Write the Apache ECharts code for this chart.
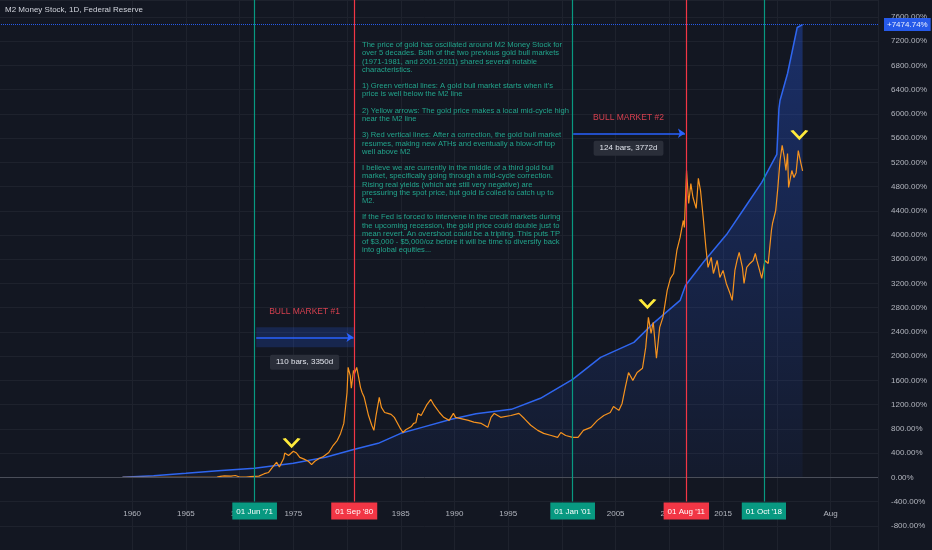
<!DOCTYPE html>
<html>
<head>
<meta charset="utf-8">
<script src="https://cdn.jsdelivr.net/npm/echarts@6/dist/echarts.min.js"></script>
<style>
html,body{margin:0;padding:0;background:#131722;overflow:hidden;}
/* chart box starts 32px left of the page so the plot can begin before 1945 */
#chart{position:absolute;left:-32px;top:0;width:964px;height:550px;}
</style>
</head>
<body>
<div id="chart"></div>
<script>
// M2 money stock, % change since 1959  [year, pct]
var m2Data = [
	[1959.1,0],[1962,25],[1965,66],[1968,110],[1971.4,149],[1975,231],[1978,330],
	[1980.7,462],[1982.9,561],[1985,726],[1986.9,820],[1989.7,957],[1992,1050],
	[1995.3,1122],[1998,1304],[2001,1617],[2003.6,1980],[2006.7,2228],[2008.5,2541],
	[2011,2920],[2011.5,3168],[2013.2,3560],[2015.4,4026],[2017.2,4500],[2018.6,4870],
	[2019.8,5264],[2020.0,5330],[2020.2,6089],[2020.3,6221],[2021.0,6667],[2021.9,7426],
	[2022.4,7474.74]
];
// gold price, % change since 1959  [year, pct]
var goldData = [
	[1959.1,0],[1962,1],[1965,0],[1967.9,2],[1968.2,15],[1968.6,25],[1969.2,20],[1969.6,30],
	[1970.0,5],[1970.6,4],[1971.0,10],[1971.4,15],[1971.8,20],[1972.3,60],[1972.7,80],
	[1973.0,150],[1973.45,250],[1973.7,170],[1974.1,310],[1974.2,400],[1974.56,360],
	[1975.0,430],[1975.3,400],[1975.6,330],[1976.0,300],[1976.4,265],[1976.7,210],
	[1977.0,265],[1977.4,310],[1977.8,345],[1978.3,410],[1978.7,525],[1979.1,610],
	[1979.4,725],[1979.7,890],[1979.85,1140],[1980.0,1400],[1980.1,1815],[1980.3,1680],
	[1980.4,1470],[1980.6,1765],[1980.7,1715],[1980.9,1815],[1981.05,1680],[1981.25,1485],
	[1981.4,1400],[1981.6,1320],[1982.0,1020],[1982.3,860],[1982.5,775],[1982.7,1020],
	[1983.0,1320],[1983.2,1155],[1983.5,1070],[1983.8,1055],[1984.1,1040],[1984.4,990],
	[1984.9,825],[1985.2,740],[1985.5,790],[1986.0,840],[1986.2,890],[1986.4,900],
	[1986.6,1055],[1986.9,1020],[1987.4,1190],[1987.8,1285],[1988.1,1190],[1988.6,1070],
	[1989.0,990],[1989.5,940],[1989.9,1055],[1990.1,990],[1990.6,970],[1991.3,940],
	[1991.8,910],[1992.5,890],[1993.1,825],[1993.4,990],[1993.7,1055],[1994.3,990],
	[1995.25,1020],[1996.0,1055],[1996.5,970],[1997.1,860],[1997.75,775],[1998.3,725],
	[1999.0,690],[1999.6,660],[1999.9,740],[2000.35,690],[2001.0,660],[2001.5,660],
	[2002.0,775],[2002.7,825],[2003.3,940],[2003.9,1020],[2004.5,1070],[2004.8,1170],
	[2005.3,1105],[2005.6,1220],[2005.9,1485],[2006.2,1730],[2006.6,1600],[2007.0,1730],
	[2007.5,1800],[2007.8,2145],[2008.05,2640],[2008.3,2375],[2008.5,2560],[2008.8,1965],
	[2009.1,2475],[2009.4,2640],[2009.8,3085],[2010.1,3285],[2010.4,3365],[2010.7,3745],
	[2011.0,3960],[2011.3,4240],[2011.4,4125],[2011.6,5065],[2011.8,4520],[2012.0,4850],
	[2012.2,4620],[2012.5,4440],[2012.7,4935],[2012.9,4735],[2013.15,4290],[2013.4,3795],
	[2013.6,3465],[2013.9,3630],[2014.1,3365],[2014.45,3580],[2014.7,3300],[2015.0,3415],
	[2015.3,3200],[2015.65,3035],[2015.85,2920],[2016.1,3415],[2016.3,3580],[2016.5,3715],
	[2016.8,3465],[2016.95,3200],[2017.2,3465],[2017.5,3530],[2017.8,3580],[2018.0,3695],
	[2018.15,3580],[2018.4,3415],[2018.6,3285],[2018.9,3580],[2019.2,3530],[2019.5,4075],
	[2019.6,4190],[2019.9,4405],[2020.1,4785],[2020.3,5230],[2020.5,5480],[2020.7,5280],
	[2020.85,5065],[2021.0,5345],[2021.1,4785],[2021.4,5065],[2021.6,4950],[2021.8,5030],
	[2022.0,5395],[2022.25,5180],[2022.4,5058.45]
];

// x axis tick labels
var xTickValues = [1960,1965,1970,1975,1980,1985,1990,1995,2000,2005,2010,2015,2025];
var xTickNames  = ['1960','1965','1970','1975','1980','1985','1990','1995','2000','2005','2010','2015','Aug'];

// vertical event lines: green = bull market start, red = blow-off phase
var greenYears = [1971.40, 2001.0, 2018.80];
var greenNames = ["01 Jun '71", "01 Jan '01", "01 Oct '18"];
var redYears = [1980.67, 2011.58];
var redNames = ["01 Sep '80", "01 Aug '11"];

// yellow arrows (mid-cycle highs)
var chevronYears = [1974.84, 2007.96, 2022.1];
var chevronPct = [578, 2873, 5663];

var lastM2 = 7474.74;
var lastGold = 5058.45;

var noteText = [
	"The price of gold has oscillated around M2 Money Stock for",
	"over 5 decades. Both of the two previous gold bull markets",
	"(1971-1981, and 2001-2011) shared several notable",
	"characteristics.",
	"",
	"1) Green vertical lines: A gold bull market starts when it's",
	"price is well below the M2 line",
	"",
	"2) Yellow arrows: The gold price makes a local mid-cycle high",
	"near the M2 line",
	"",
	"3) Red vertical lines: After a correction, the gold bull market",
	"resumes, making new ATHs and eventually a blow-off top",
	"well above M2",
	"",
	"I believe we are currently in the middle of a third gold bull",
	"market, specifically going through a mid-cycle correction.",
	"Rising real yields (which are still very negative) are",
	"pressuring the spot price, but gold is coiled to catch up to",
	"M2.",
	"",
	"If the Fed is forced to intervene in the credit markets during",
	"the upcoming recession, the gold price could double just to",
	"mean revert. An overshoot could be a tripling. This puts TP",
	"of $3,000 - $5,000/oz before it will be time to diversify back",
	"into global equities..."
].join('\n');

var chart = echarts.init(document.getElementById('chart'));
var shift = 32; // page offset of the chart box

var gridColor = '#1e222d';
var splitColors = ['rgba(0,0,0,0)','rgba(0,0,0,0)','rgba(0,0,0,0)'];
for (var i = 0; i < 16; i++) splitColors.push(gridColor);

// one empty series per colour, carrying the vertical lines + date badges
function eventSeries(name, years, names, color) {
	var lines = [];
	for (var i = 0; i < years.length; i++) {
		lines.push([
			{coord: [years[i], -400], label: {formatter: names[i]}},
			{coord: [years[i], 7880]}
		]);
	}
	return {
		name: name,
		type: 'line',
		data: [],
		z: 4,
		markLine: {
			silent: true,
			symbol: ['none', 'none'],
			lineStyle: {color: color, width: 1.2, type: 'solid', opacity: 1},
			label: {show: true, position: 'start', color: '#fff', backgroundColor: color,
				padding: [5, 4, 4, 4], fontSize: 8, fontFamily: 'Liberation Sans', distance: 1},
			data: lines
		}
	};
}

var markLines = [];
// bull market arrows
markLines.push([
	{coord: [1971.55, 2311], label: {show: false}},
	{coord: [1980.6, 2311], symbol: 'arrow', symbolSize: [7, 7]}
]);
markLines.push([
	{coord: [2001.05, 5680], label: {show: false}},
	{coord: [2011.45, 5680], symbol: 'arrow', symbolSize: [7, 7]}
]);
// zero line
markLines.push({yAxis: 0, lineStyle: {color: '#4a4e59', width: 1, type: 'solid'}, label: {show: false}});
// last value lines + price scale badges
markLines.push({yAxis: lastM2, lineStyle: {color: '#2962ff', width: 1, type: 'dotted', opacity: 0.9},
	label: {show: true, position: 'end', formatter: '+' + lastM2.toFixed(2) + '%', color: '#fff',
		backgroundColor: '#2962ff', padding: [3, 3, 2, 3], fontSize: 8, fontFamily: 'Liberation Sans', distance: 6}});
markLines.push({yAxis: lastGold, lineStyle: {opacity: 0},
	label: {show: true, position: 'end', formatter: '+' + lastGold.toFixed(2) + '%', color: '#fff',
		backgroundColor: '#f57c00', padding: [3, 3, 2, 3], fontSize: 8, fontFamily: 'Liberation Sans', distance: 6}});

var markPoints = [];
for (var i = 0; i < chevronYears.length; i++) {
	markPoints.push({
		coord: [chevronYears[i], chevronPct[i]],
		symbol: 'path://M0,0L8,6L16,0',
		symbolSize: [15, 8],
		itemStyle: {color: 'rgba(0,0,0,0)', borderColor: '#ffeb3b', borderWidth: 2.5},
		label: {show: false}
	});
}
function textPoint(x, y, text, style) {
	var lab = {show: true, position: 'inside', formatter: text, fontFamily: 'Liberation Sans'};
	for (var k in style) lab[k] = style[k];
	return {coord: [x, y], symbol: 'rect', symbolSize: 0, label: lab};
}
markPoints.push(textPoint(1976.05, 2741, 'BULL MARKET #1', {color: '#d5404f', fontSize: 8.5}));
markPoints.push(textPoint(1976.05, 1899, '110 bars, 3350d', {color: '#e0e3eb', fontSize: 8,
	backgroundColor: '#2a2e39', padding: [4, 6, 3, 6], borderRadius: 2}));
markPoints.push(textPoint(2006.2, 5944, 'BULL MARKET #2', {color: '#d5404f', fontSize: 8.5}));
markPoints.push(textPoint(2006.2, 5432, '124 bars, 3772d', {color: '#e0e3eb', fontSize: 8,
	backgroundColor: '#2a2e39', padding: [4, 6, 3, 6], borderRadius: 2}));

var option = {
	backgroundColor: '#131722',
	animation: false,
	grid: {left: 0, right: 54, top: 0, bottom: 0},
	xAxis: {
		type: 'value',
		min: 1945,
		max: 2029.42,
		interval: 5,
		axisLine: {show: false},
		axisTick: {show: false},
		splitLine: {show: true, lineStyle: {color: splitColors, width: 1}},
		axisLabel: {
			inside: true,
			margin: 32,
			color: '#b2b5be',
			fontSize: 8,
			fontFamily: 'Liberation Sans',
			showMaxLabel: false,
			formatter: function (v) {
				var idx = xTickValues.indexOf(Math.round(v));
				return idx < 0 ? '' : xTickNames[idx];
			}
		}
	},
	yAxis: {
		type: 'value',
		position: 'right',
		min: -1200,
		max: 7880,
		interval: 400,
		axisLine: {show: false},
		axisTick: {show: false},
		splitLine: {show: true, lineStyle: {color: gridColor, width: 1}},
		axisLabel: {
			color: '#b2b5be',
			fontSize: 8,
			fontFamily: 'Liberation Sans',
			margin: 13,
			showMinLabel: false,
			showMaxLabel: false,
			formatter: function (v) { return v.toFixed(2) + '%'; }
		}
	},
	graphic: [
		{type: 'text', left: 5 + shift, top: 6, z: 100,
			style: {text: 'M2 Money Stock, 1D, Federal Reserve', fill: '#d1d4dc',
				font: '8px "Liberation Sans"'}},
		{type: 'text', left: 362 + shift, top: 41, z: 100,
			style: {text: noteText, fill: '#22a58c', font: '7.6px "Liberation Sans"', lineHeight: 8.2}}
	],
	series: [
		{
			name: 'M2',
			type: 'line',
			data: m2Data,
			symbol: 'none',
			lineStyle: {color: '#2f66f0', width: 1.5},
			areaStyle: {
				color: new echarts.graphic.LinearGradient(0, 0, 0, 1, [
					{offset: 0, color: 'rgba(41,98,255,0.45)'},
					{offset: 1, color: 'rgba(41,98,255,0.07)'}
				])
			},
			z: 2
		},
		{
			name: 'Gold',
			type: 'line',
			data: goldData,
			symbol: 'none',
			lineStyle: {color: '#f7931e', width: 1.2},
			z: 3,
			markArea: {
				silent: true,
				itemStyle: {color: 'rgba(41,98,255,0.2)'},
				data: [[{xAxis: 1971.55, yAxis: 2476}, {xAxis: 1980.67, yAxis: 2146}]]
			},
			markLine: {
				silent: true,
				symbol: ['none', 'none'],
				lineStyle: {color: '#2962ff', width: 1.5, type: 'solid'},
				data: markLines
			},
			markPoint: {
				silent: true,
				data: markPoints
			}
		},
		eventSeries('start', greenYears, greenNames, '#089981'),
		eventSeries('top', redYears, redNames, '#f23645')
	]
};
chart.setOption(option);
</script>
</body>
</html>
